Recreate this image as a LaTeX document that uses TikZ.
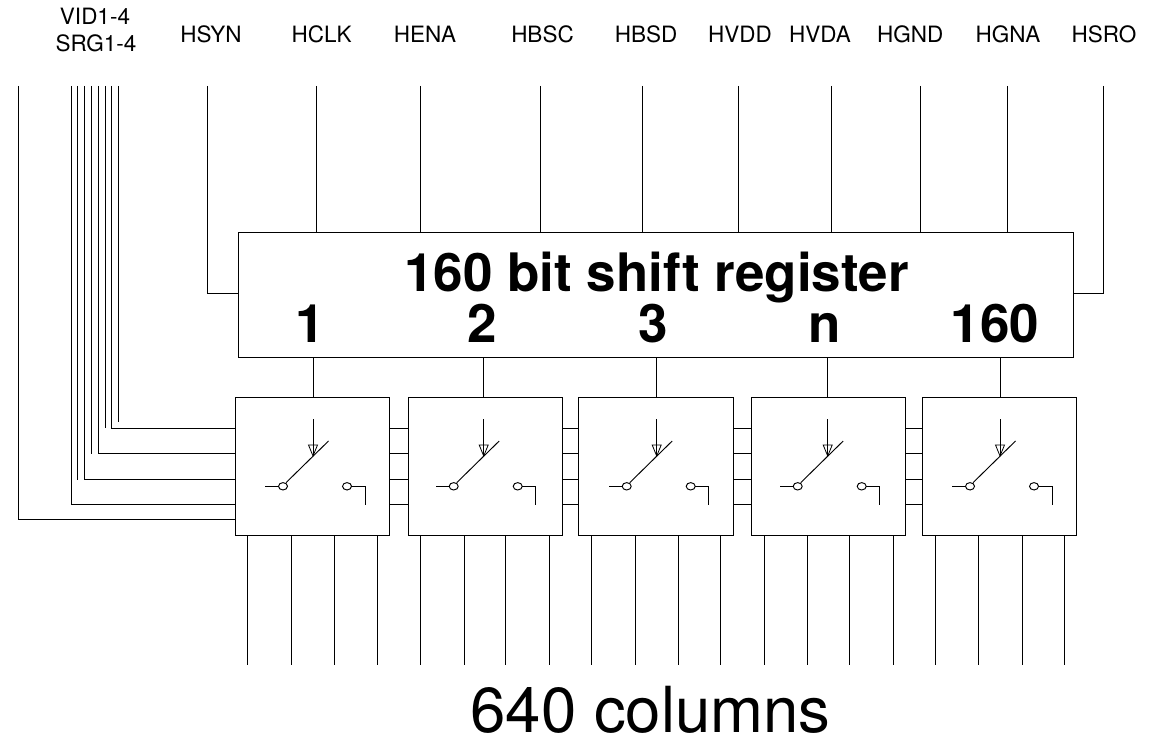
\documentclass[tikz,border=0pt]{standalone}
\usepackage{fontspec}
\setmainfont{TeX Gyre Heros}
\tikzset{
  wire/.style={line width=0.95pt,black,line cap=butt},
  regbox/.style={draw,line width=0.95pt,rectangle,inner sep=0pt,outer sep=0pt,anchor=north west,minimum width=835pt,minimum height=125pt},
  swbox/.style={draw,line width=0.95pt,rectangle,inner sep=0pt,outer sep=0pt,anchor=north west,minimum width=154.4pt,minimum height=138pt},
  pinlabel/.style={anchor=base,inner sep=0pt,font=\fontsize{22.5}{27}\selectfont},
  boldlabel/.style={anchor=base,inner sep=0pt,font=\fontsize{53}{60}\selectfont\bfseries},
  biglabel/.style={anchor=base,inner sep=0pt,font=\fontsize{63.5}{76}\selectfont},
  switchsym/.pic={
    \draw[wire] (0,419) -- (0,456);
    \draw[wire,line width=0.8pt] (-4.5,445) -- (4.5,445) -- (0,456) -- cycle;
    \draw[wire] (15.5,441) -- (-27,482.7);
    \draw[wire] (-47.7,486.3) -- (-34.5,486.3);
    \draw[wire] (-30,486.3) circle [x radius=4.5,y radius=3.7];
    \draw[wire] (34,486.3) circle [x radius=4.5,y radius=3.7];
    \draw[wire] (38.5,486.3) -- (52,486.3) -- (52,504.7);
  }
}
\begin{document}
\begin{tikzpicture}[x=1pt,y=-1pt]
\useasboundingbox (0,0) rectangle (1151,735);
% labels
\node[pinlabel] (lvid) at (95,25) {VID1-4};
\node[pinlabel] (lsrg) at (96,51.7) {SRG1-4};
\node[pinlabel] (lsyn) at (211,43) {HSYN};
\node[pinlabel] (lclk) at (321.7,43) {HCLK};
\node[pinlabel] (lena) at (425,43) {HENA};
\node[pinlabel] (lbsc) at (542.5,43) {HBSC};
\node[pinlabel] (lbsd) at (646,43) {HBSD};
\node[pinlabel] (lvdd) at (740,43) {HVDD};
\node[pinlabel] (lvda) at (820,43) {HVDA};
\node[pinlabel] (lgnd) at (910.3,43) {HGND};
\node[pinlabel] (lgna) at (1008,43) {HGNA};
\node[pinlabel] (lsro) at (1104,43) {HSRO};
% register
\node[regbox] (reg) at (238.3,232) {};
\node[boldlabel] (title) at (656.5,291.7) {160 bit shift register};
\node[boldlabel] (n1) at (310,342.3) {1};
\node[boldlabel] (n2) at (482,342.3) {2};
\node[boldlabel] (n3) at (653,342.3) {3};
\node[boldlabel] (nn) at (825,342.3) {n};
\node[boldlabel] (n160) at (995,342.3) {160};
% switch boxes
\node[swbox] (b1) at (235,397.5) {};
\node[swbox] (b2) at (408,397.5) {};
\node[swbox] (b3) at (578.7,397.5) {};
\node[swbox] (b4) at (751.3,397.5) {};
\node[swbox] (b5) at (922.5,397.5) {};
\node[biglabel] (cols) at (650.5,732.6) {640 columns};
% top pins entering the register
\foreach \n/\x in {clk/316.4,ena/420,bsc/540.3,bsd/642,vdd/738.3,vda/831,gnd/920.3,gna/1007.3}{
  \coordinate (t\n) at (\x,86);
  \draw[wire] (t\n) -- (t\n |- reg.north);
}
\coordinate (tsyn) at (207.5,86);
\coordinate (tsro) at (1103.7,86);
\coordinate (ksyn) at (207.5,293.7);
\coordinate (ksro) at (1103.7,293.7);
\draw[wire] (tsyn) -- (ksyn) -- (ksyn -| reg.west);
\draw[wire] (tsro) -- (ksro) -- (ksro -| reg.east);
% register to switch boxes, and switch symbols
\foreach \b/\x in {1/313,2/483.7,3/656.7,4/827.7,5/1000}{
  \coordinate (s\b) at (\x,0);
  \draw[wire] (s\b |- reg.south) -- (s\b |- b\b.north);
  \pic at (\x,0) {switchsym};
}
% bus levels
\coordinate (ya) at (0,428.3);
\coordinate (yb) at (0,453.7);
\coordinate (yc) at (0,479.3);
\coordinate (yd) at (0,504.7);
\coordinate (ye) at (0,519);
% left bus: bent lines
\foreach \x/\y in {111/ya,98/yb,84/yc,71/yd,18/ye}{
  \coordinate (p) at (\x,86);
  \draw[wire] (p) -- (p |- \y) -- (\y -| b1.west);
}
% left bus: ending stubs
\foreach \x/\y in {118/422,105/428.3,91/454,77/479.5}{
  \coordinate (p) at (\x,86);
  \coordinate (q) at (\x,\y);
  \draw[wire] (p) -- (q);
}
% links between switch boxes
\foreach \l/\r in {b1/b2,b2/b3,b3/b4,b4/b5}{
  \foreach \y in {ya,yb,yc,yd}{
    \draw[wire] (\y -| \l.east) -- (\y -| \r.west);
  }
}
% column lines
\foreach \b/\xs in {b1/{247.7,291,334.7,377},b2/{420.3,464,505.7,549.3},b3/{591,635,678.3,720.3},b4/{764,807.3,849.3,893},b5/{935,978.3,1022.3,1064}}{
  \foreach \x in \xs {
    \coordinate (e) at (\x,665);
    \draw[wire] (e |- \b.south) -- (e);
  }
}
\end{tikzpicture}
\end{document}
